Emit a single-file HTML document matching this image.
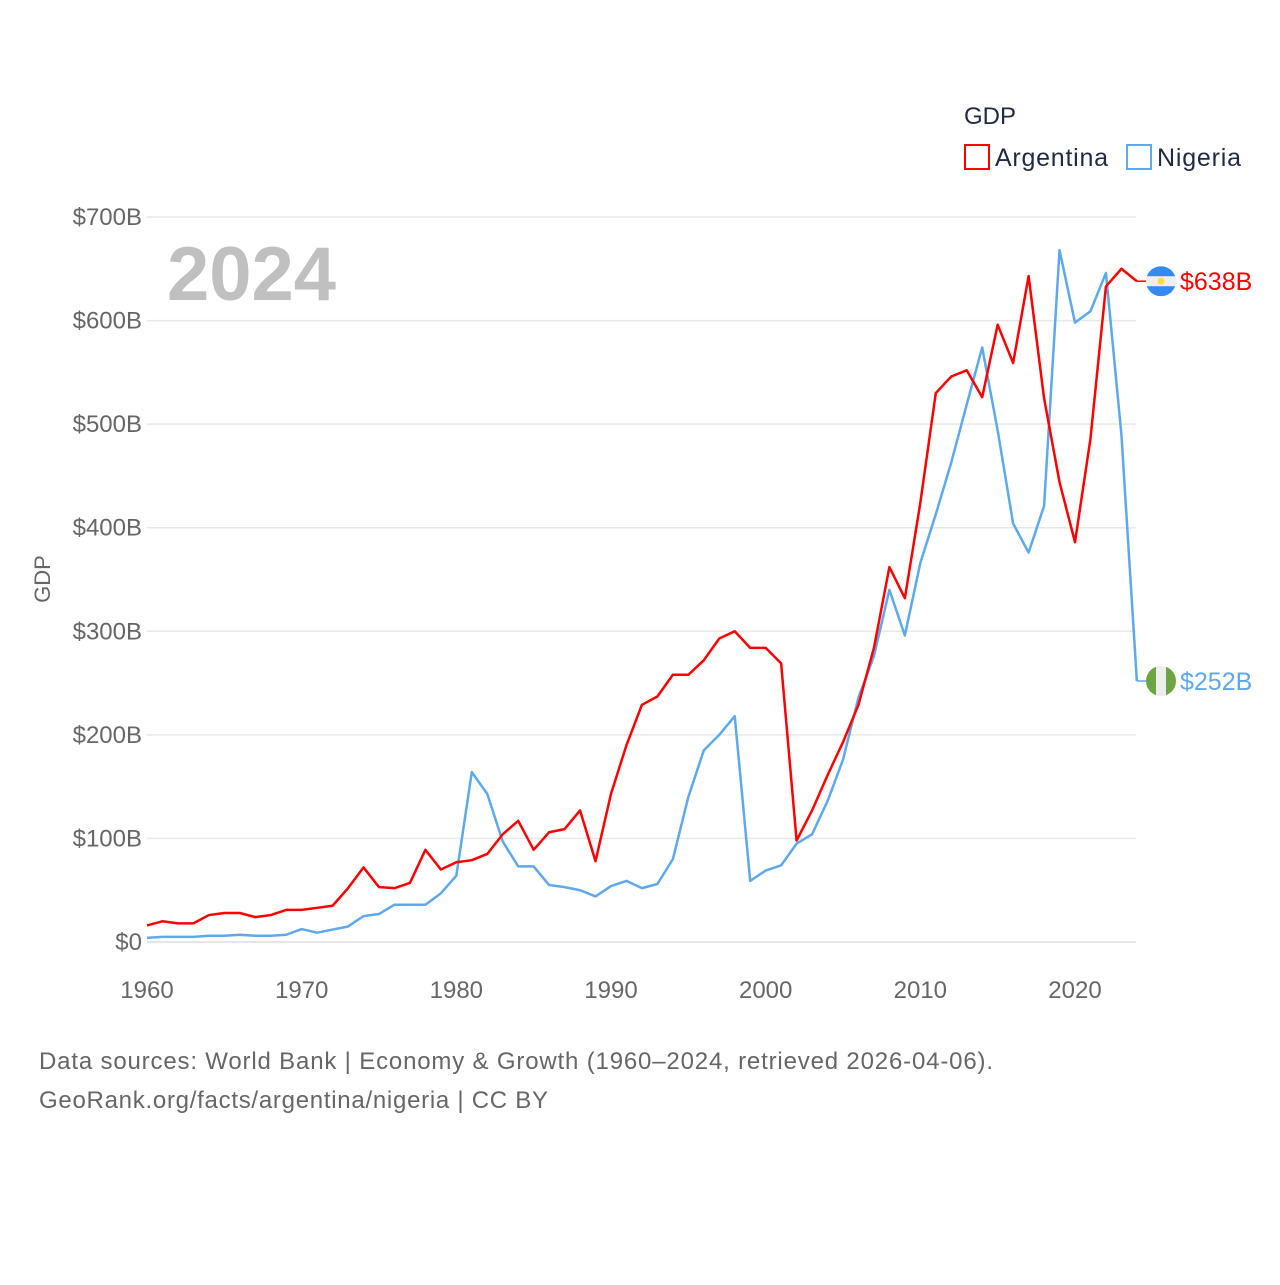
<!DOCTYPE html>
<html><head><meta charset="utf-8"><style>
body{margin:0;background:#fff;width:1280px;height:1280px;overflow:hidden;font-family:"Liberation Sans",sans-serif}
</style></head><body>
<svg width="1280" height="1280" xmlns="http://www.w3.org/2000/svg" font-family="Liberation Sans, sans-serif">
<g id="grid"></g>
<g id="yticks"></g>
<g id="xticks"></g>
<text x="167" y="300" font-size="76" font-weight="bold" fill="#c0c0c0">2024</text>
<text transform="translate(50,579) rotate(-90)" text-anchor="middle" font-size="22" fill="#666">GDP</text>
<g id="series"></g>
<g>
<text x="964" y="124" font-size="24" fill="#1d2b44">GDP</text>
<g><rect x="965" y="145" width="24" height="24" fill="none" stroke="#ff0000" stroke-width="2"/><text x="995" y="166" font-size="25" fill="#1d2b44" textLength="113">Argentina</text></g>
<g><rect x="1127" y="145" width="24" height="24" fill="none" stroke="#5ea8ec" stroke-width="2"/><text x="1157" y="166" font-size="25" fill="#1d2b44" textLength="84">Nigeria</text></g>
</g>
<text x="39" y="1069" font-size="24" fill="#666" textLength="954">Data sources: World Bank | Economy &amp; Growth (1960–2024, retrieved 2026-04-06).</text>
<text x="39" y="1108" font-size="24" fill="#666" textLength="509">GeoRank.org/facts/argentina/nigeria | CC BY</text>
</svg>
<script>
const years = [];for(let y=1960;y<=2024;y++)years.push(y);
const argentina = [16,20,18,18,26,28,28,24,26,31,31,33,35,52,72,53,52,57,89,70,77,79,85,104,117,89,106,109,127,78,143,190,229,237,258,258,272,293,300,284,284,269,98,127,161,193,229,284,362,332,424,530,546,552,526,596,559,643,525,444,386,486,633,650,638];
const nigeria = [4,5,5,5,6,6,7,6,6,7,12.5,9,12,15,25,27,36,36,36,47,64,164,143,97,73,73,55,53,50,44,54,59,52,56,80,140,185,200,218,59,69,74,95,104,136,176,236,276,340,296,366,413,463,519,574,494,404,376,421,668,598,609,646,490,252];
const yTicks = [0,100,200,300,400,500,600,700];
const xTicks = [1960,1970,1980,1990,2000,2010,2020];
const NS='http://www.w3.org/2000/svg';
const X=y=>147+(y-1960)*(1075-147)/60;
const Y=v=>942-v*(725/700);
function mk(t,a,p){const e=document.createElementNS(NS,t);for(const k in a)e.setAttribute(k,a[k]);p.appendChild(e);return e;}
const grid=document.getElementById('grid'),yt=document.getElementById('yticks'),xt=document.getElementById('xticks'),sr=document.getElementById('series');
yTicks.forEach(v=>{
 const l=mk('line',{x1:147,x2:1136,y1:Y(v),y2:Y(v),stroke:v===0?'#ddd':'#e8e8e8','stroke-width':1.5},grid);
 
 
 const t=mk('text',{x:142,y:Y(v)+8,'text-anchor':'end','font-size':24,fill:'#666'},yt);
 t.textContent='$'+v+(v?'B':'');
 
 
});
xTicks.forEach(v=>{
 const t=mk('text',{x:X(v),y:998,'text-anchor':'middle','font-size':24,fill:'#666'},xt);
 t.textContent=v;
 
 
});
function line(data,color,name){
 const p=mk('polyline',{points:data.map((v,i)=>X(years[i])+','+Y(v)).join(' '),fill:'none',stroke:color,'stroke-width':2.5,'stroke-linejoin':'round'},sr);
 
 
}
line(nigeria,'#5ea8ec','nigeria-line');
line(argentina,'#ff0000','argentina-line');
function endLabel(v,color,name,flag){
 const ex=X(2024),ey=Y(v);
 const c=mk('line',{x1:ex,x2:1148,y1:ey,y2:ey,stroke:color,'stroke-width':1.5},sr);
 
 
 const g=mk('g',{},sr);
 
 
 const cp=mk('clipPath',{id:'cp'+name},g);mk('circle',{cx:1161,cy:ey,r:15},cp);
 const gg=mk('g',{'clip-path':'url(#cp'+name+')'},g);
 if(flag==='ar'){mk('rect',{x:1146,y:ey-15,width:30,height:30,fill:'#eee'},gg);mk('rect',{x:1146,y:ey-15,width:30,height:10,fill:'#338af3'},gg);mk('rect',{x:1146,y:ey+5,width:30,height:10,fill:'#338af3'},gg);mk('circle',{cx:1161,cy:ey,r:3.5,fill:'#ffda44'},gg);}
 else{mk('rect',{x:1146,y:ey-15,width:30,height:30,fill:'#eee'},gg);mk('rect',{x:1146,y:ey-15,width:10,height:30,fill:'#6da544'},gg);mk('rect',{x:1166,y:ey-15,width:10,height:30,fill:'#6da544'},gg);}
 const t=mk('text',{x:1180,y:ey+9,'font-size':25,fill:color},sr);
 t.textContent='$'+Math.round(v)+'B';
 
 
}
endLabel(argentina[argentina.length-1],'#ff0000','argentina','ar');
endLabel(nigeria[nigeria.length-1],'#5ea8ec','nigeria','ng');
</script>
</body></html>
